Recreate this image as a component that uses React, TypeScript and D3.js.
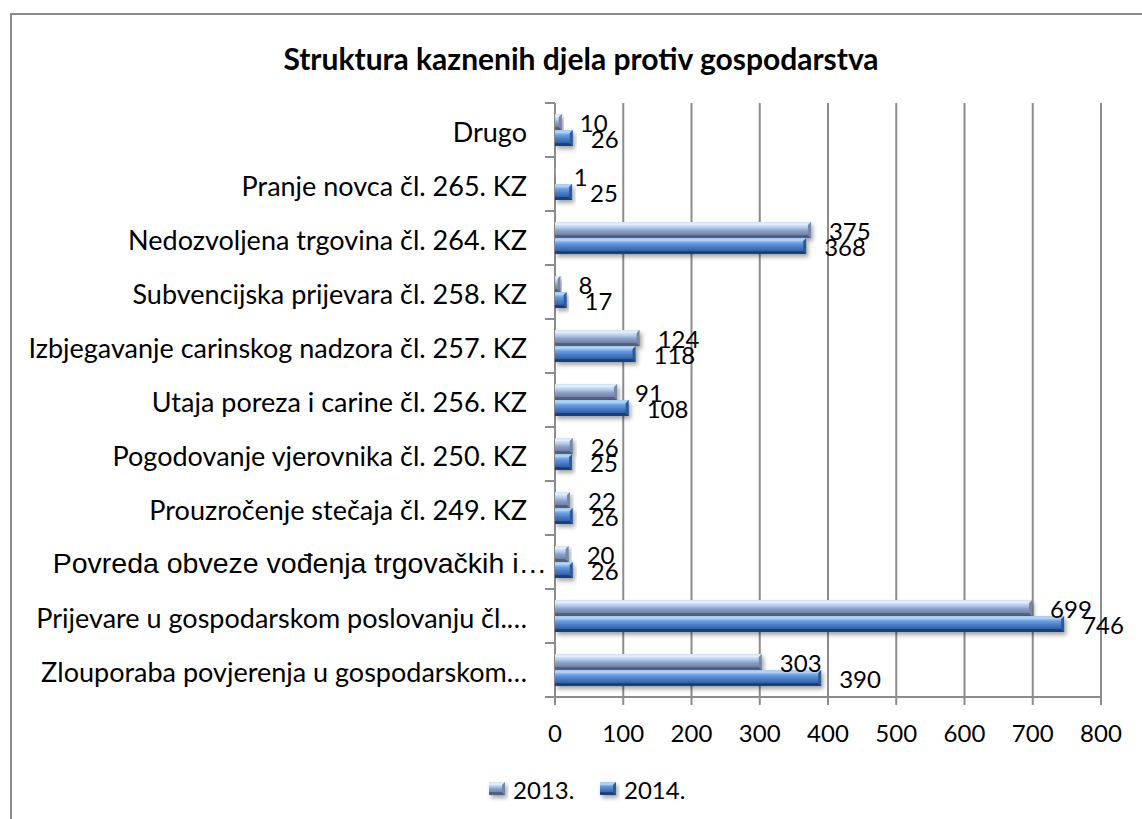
import React from "react";
import * as d3 from "d3";

const categories = [
  "Drugo",
  "Pranje novca čl. 265. KZ",
  "Nedozvoljena trgovina čl. 264. KZ",
  "Subvencijska prijevara čl. 258. KZ",
  "Izbjegavanje carinskog nadzora čl. 257. KZ",
  "Utaja poreza i carine  čl. 256. KZ",
  "Pogodovanje vjerovnika čl. 250. KZ",
  "Prouzročenje stečaja čl. 249. KZ",
  "Povreda obveze vođenja trgovačkih i…",
  "Prijevare u gospodarskom poslovanju čl.…",
  "Zlouporaba povjerenja u gospodarskom…",
];
const values2013 = [10, 1, 375, 8, 124, 91, 26, 22, 20, 699, 303];
const values2014 = [26, 25, 368, 17, 118, 108, 25, 26, 26, 746, 390];
const seriesNames = ["2013.", "2014."];
const xTicks = [0, 100, 200, 300, 400, 500, 600, 700, 800];
const title = "Struktura kaznenih djela protiv gospodarstva";

const W = 1142;
const H = 819;
const FONT = "Lato, 'Noto Sans', sans-serif";

export default function App() {
  const x = d3.scaleLinear().domain([0, 800]).range([555, 1101]);
  const y = d3.scaleBand<string>().domain(categories).range([103, 697]).padding(0);
  const bw = y.bandwidth();
  const barH = 16;
  const inner = d3
    .scaleBand<string>()
    .domain(seriesNames)
    .range([bw / 2 - barH, bw / 2 + barH])
    .padding(0);
  const seriesVals = [values2013, values2014];
  const grads = ["g2013", "g2014"];
  const bevelTop = ["#e6f1fd", "#b3d5f8"];
  const bevelBot = ["#4d5a75", "#1b3c6c"];
  const bevelEnd = ["#7587a8", "#2d5a96"];

  const bar = (x0: number, x1: number, y0: number, h: number, s: number, key: string) => {
    const w = Math.max(0, x1 - x0);
    const b = Math.min(3, w / 2, h / 2);
    const y1 = y0 + h;
    return (
      <g key={key} filter="url(#shadow)">
        <rect x={x0} y={y0} width={w} height={h} fill={`url(#${grads[s]})`} />
        <polygon points={`${x0},${y0} ${x1},${y0} ${x1 - b},${y0 + b} ${x0},${y0 + b}`} fill={bevelTop[s]} opacity={0.8} />
        <polygon points={`${x0},${y1} ${x1},${y1} ${x1 - b},${y1 - b} ${x0},${y1 - b}`} fill={bevelBot[s]} opacity={0.8} />
        <polygon points={`${x1 - b},${y0 + b} ${x1},${y0} ${x1},${y1} ${x1 - b},${y1 - b}`} fill={bevelEnd[s]} />
      </g>
    );
  };

  const ticksY = [...categories.map((c) => y(c) as number), 697];

  return (
    <svg width={W} height={H} style={{ position: "absolute", left: 0, top: 0, background: "#fff" }}>
      <defs>
        <linearGradient id="g2013" x1="0" y1="0" x2="0" y2="1">
          <stop offset="0" stopColor="#8fa1c1" />
          <stop offset="0.15" stopColor="#d6e8fc" />
          <stop offset="0.35" stopColor="#b1cbee" />
          <stop offset="0.55" stopColor="#8b9fc2" />
          <stop offset="0.85" stopColor="#6d7ea0" />
          <stop offset="1" stopColor="#5a6784" />
        </linearGradient>
        <linearGradient id="g2014" x1="0" y1="0" x2="0" y2="1">
          <stop offset="0" stopColor="#7aaee8" />
          <stop offset="0.15" stopColor="#9fcaf5" />
          <stop offset="0.35" stopColor="#629ae0" />
          <stop offset="0.6" stopColor="#4479c2" />
          <stop offset="0.85" stopColor="#2f5e9e" />
          <stop offset="1" stopColor="#21467c" />
        </linearGradient>
        <filter id="shadow" x="-10%" y="-50%" width="130%" height="250%">
          <feDropShadow dx="2" dy="3" stdDeviation="2" floodColor="#000" floodOpacity="0.35" />
        </filter>
      </defs>
      <rect x={11} y={14} width={W + 20} height={H + 20} fill="#fff" stroke="#8a8a8a" strokeWidth={2} />
      <text x={581} y={58} textAnchor="middle" dominantBaseline="central" fontFamily={FONT} fontWeight="bold" fontSize={30} fill="#000">
        {title}
      </text>
      {/* gridlines */}
      {xTicks.slice(1).map((t) => (
        <line key={`g${t}`} x1={x(t)} x2={x(t)} y1={103} y2={697} stroke="#8c8c8c" strokeWidth={2} />
      ))}
      {/* axes */}
      <line x1={555} x2={555} y1={103} y2={697} stroke="#8c8c8c" strokeWidth={2} />
      <line x1={555} x2={1101} y1={697} y2={697} stroke="#8c8c8c" strokeWidth={2} />
      {ticksY.map((t, i) => (
        <line key={`ty${i}`} x1={545} x2={555} y1={t} y2={t} stroke="#8c8c8c" strokeWidth={2} />
      ))}
      {xTicks.map((t) => (
        <line key={`tx${t}`} x1={x(t)} x2={x(t)} y1={697} y2={705} stroke="#8c8c8c" strokeWidth={2} />
      ))}
      {xTicks.map((t) => (
        <text key={`tl${t}`} x={x(t)} y={732} textAnchor="middle" dominantBaseline="central" fontFamily={FONT} fontSize={24} fill="#000">
          {t}
        </text>
      ))}
      {/* category labels */}
      {categories.map((c) => {
        const arial = c.startsWith("Povreda");
        return (
          <text
            key={`c${c}`}
            x={arial ? 547 : 527}
            y={(y(c) as number) + bw / 2 + 1}
            textAnchor="end"
            dominantBaseline="central"
            fontFamily={arial ? "'Liberation Sans', Arial, sans-serif" : FONT}
            fontSize={arial ? 28.5 : 27}
            fill="#000"
          >
            {c}
          </text>
        );
      })}
      {/* bars */}
      {categories.map((c, i) =>
        seriesNames.map((s, si) => {
          const v = seriesVals[si][i];
          const y0 = (y(c) as number) + (inner(s) as number);
          return bar(x(0), x(v), y0, inner.bandwidth(), si, `b${i}-${si}`);
        })
      )}
      {/* value labels */}
      {categories.map((c, i) =>
        seriesNames.map((s, si) => {
          const v = seriesVals[si][i];
          const yc = (y(c) as number) + (inner(s) as number) + inner.bandwidth() / 2;
          return (
            <text key={`v${i}-${si}`} x={x(v) + 18} y={yc} dominantBaseline="central" fontFamily={FONT} fontSize={24} fill="#000">
              {v}
            </text>
          );
        })
      )}
      {/* legend */}
      {seriesNames.map((s, si) => {
        const lx = si === 0 ? 489 : 600;
        return (
          <g key={`l${s}`}>
            {bar(lx, lx + 16, 782, 13, si, `lb${s}`)}
            <text x={lx + 24} y={789} dominantBaseline="central" fontFamily={FONT} fontSize={24} fill="#000">
              {s}
            </text>
          </g>
        );
      })}
    </svg>
  );
}
